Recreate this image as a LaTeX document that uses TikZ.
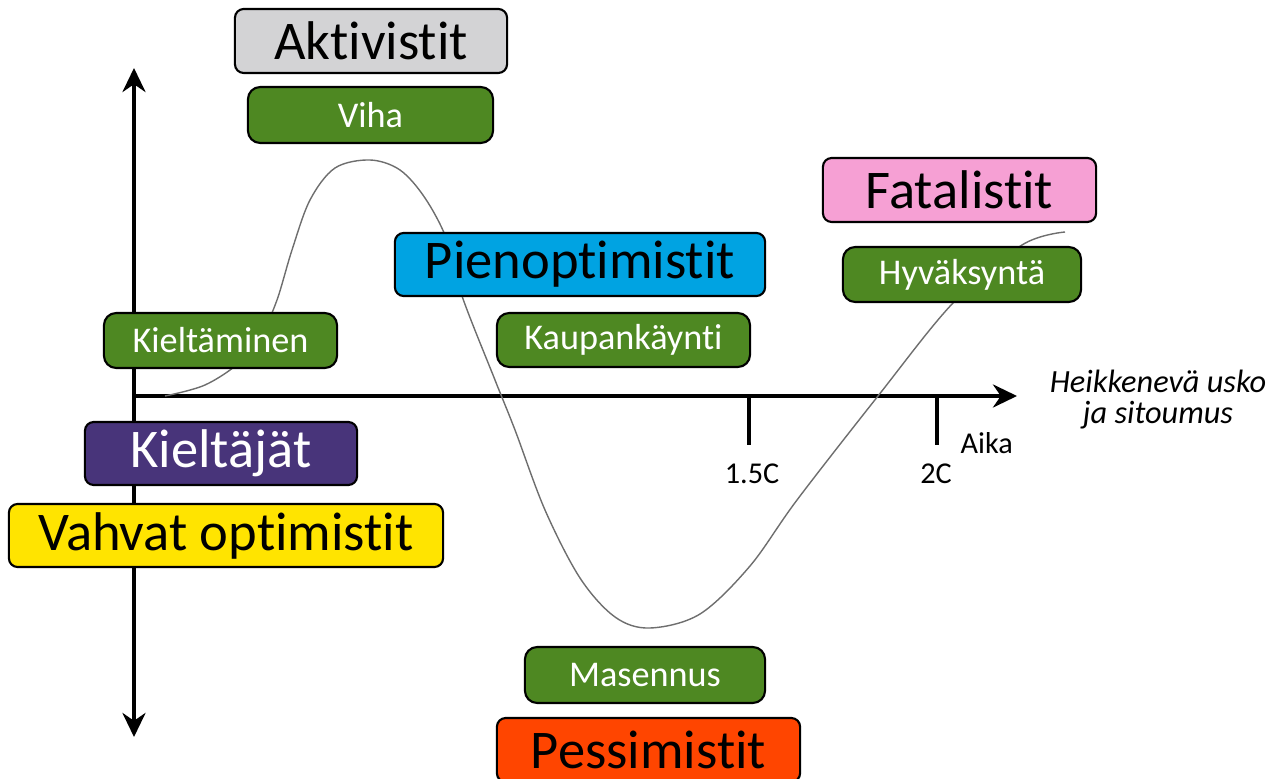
\documentclass[tikz,border=0pt]{standalone}
\usepackage{fontspec}
\setmainfont{Carlito}[Ligatures=NoCommon]
\usetikzlibrary{arrows.meta}
\definecolor{stagegreen}{RGB}{78,136,34}
\definecolor{activegray}{RGB}{211,211,213}
\definecolor{smallcyan}{RGB}{0,163,226}
\definecolor{fatalpink}{RGB}{246,160,212}
\definecolor{denypurple}{RGB}{72,52,122}
\definecolor{strongyellow}{RGB}{255,228,0}
\definecolor{pessired}{RGB}{255,69,0}
\definecolor{curvegray}{RGB}{110,110,110}
\begin{document}
\begin{tikzpicture}[x=0.01cm, y=-0.01cm,
	group/.style={draw=black, line width=0.6pt, rounded corners=2.5pt,
		inner sep=0pt, font=\fontsize{15.5}{18}\selectfont},
	stage/.style={draw=black, line width=0.6pt, rounded corners=3.5pt,
		fill=stagegreen, text=white, inner sep=0pt,
		minimum height=0.55cm, font=\fontsize{10.3}{12}\selectfont},
	axis/.style={line width=1.1pt},
	tick/.style={line width=0.9pt},
	ticklabel/.style={inner sep=0pt, font=\fontsize{8.6}{10}\selectfont}]
	\useasboundingbox (0, 0) rectangle (1269, 779);
	% Axes.
	\coordinate (origin) at (134, 396);
	\coordinate (ytop) at (134, 68);
	\coordinate (ybot) at (134, 737);
	\coordinate (xend) at (1017, 396);
	\draw[axis, {Stealth[length=2.4mm, width=2.3mm]}-{Stealth[length=2.4mm, width=2.3mm]}]
		(ybot) -- (ytop);
	\draw[axis, -{Stealth[length=2.4mm, width=2.3mm]}] (origin) -- (xend);
	% Ticks and their labels.
	\coordinate (tick15) at (749, 396);
	\coordinate (tick2) at (937, 396);
	\draw[tick] (tick15) -- ++(0, 49);
	\draw[tick] (tick2) -- ++(0, 49);
	\node[ticklabel] (lab15) at (752, 474) {1.5C};
	\node[ticklabel] (lab2) at (936, 474) {2C};
	\node[ticklabel, anchor=west] (time) at (960, 443) {Aika};
	\node[align=center, inner sep=0pt,
		font=\fontsize{9.2}{8.8}\selectfont\itshape] (belief) at (1158, 400)
		{Heikkenevä usko\\ja sitoumus};
	% The curve.
	\draw[curvegray, line width=0.4pt] plot[smooth, tension=0.55] coordinates {
		(165, 396) (205, 385) (240, 362) (262, 333) (277, 300)
		(292, 250) (310, 200) (335, 168) (370, 160) (400, 170)
		(425, 198) (447, 240) (462, 296) (495, 380) (515, 430)
		(545, 510) (580, 578) (615, 617) (650, 628) (700, 614)
		(750, 566) (797, 500) (878, 396) (953, 303) (1022, 245)
		(1065, 232)};
	% Groups.
	\node[group, fill=activegray, minimum width=2.72cm, minimum height=0.64cm]
		(aktiv) at (371, 41) {Aktivistit};
	\node[group, fill=smallcyan, minimum width=3.70cm, minimum height=0.63cm]
		(pieno) at (580, 264.5) {Pienoptimistit};
	\node[group, fill=fatalpink, minimum width=2.73cm, minimum height=0.64cm]
		(fatal) at (959.5, 190) {Fatalistit};
	\node[group, fill=denypurple, text=white, minimum width=2.72cm, minimum height=0.63cm]
		(deniers) at (221, 453.5) {Kieltäjät};
	\node[group, fill=strongyellow, minimum width=4.34cm, minimum height=0.63cm]
		(strong) at (226, 535.5) {Vahvat optimistit};
	\node[group, fill=pessired, minimum width=3.03cm, minimum height=0.64cm]
		(pessi) at (648.5, 750) {Pessimistit};
	% Stages.
	\node[stage, minimum width=2.45cm, minimum height=0.56cm]
		(anger) at (370.5, 115) {Viha};
	\node[stage, minimum width=2.33cm]
		(denial) at (220.5, 340.5) {Kieltäminen};
	\node[stage, minimum width=2.53cm, minimum height=0.54cm]
		(bargain) at (623.5, 340) {Kaupankäynti};
	\node[stage, minimum width=2.38cm]
		(accept) at (962, 274.5) {Hyväksyntä};
	\node[stage, minimum width=2.40cm, minimum height=0.56cm]
		(depress) at (645, 675) {Masennus};
\end{tikzpicture}
\end{document}
